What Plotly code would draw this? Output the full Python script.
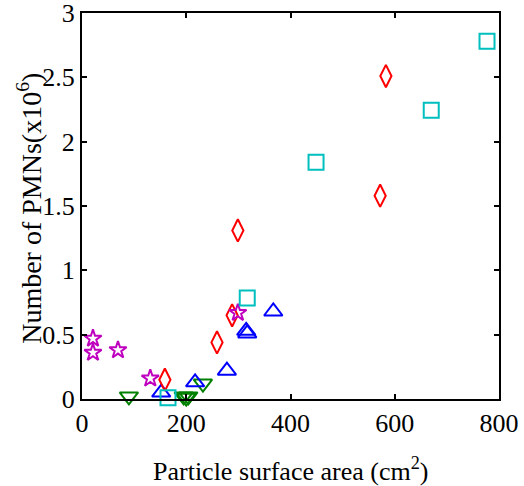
import plotly.graph_objects as go

# Data
sq_x = [165, 317, 449, 670, 777]
sq_y = [0.01, 0.785, 1.84, 2.245, 2.78]

dia_x = [159, 259, 288, 299, 572, 583]
dia_y = [0.15, 0.44, 0.65, 1.31, 1.58, 2.51]

tri_x = [152, 217, 278, 315, 317, 367]
tri_y = [0.05, 0.13, 0.22, 0.53, 0.51, 0.68]

dtri_x = [90, 195, 200, 204, 232]
dtri_y = [0.02, 0.02, 0.01, 0.02, 0.12]

star_x = [21, 21, 69, 131, 299]
star_y = [0.47, 0.36, 0.38, 0.16, 0.67]

x_ticks = [0, 200, 400, 600, 800]
y_ticks = [0, 0.5, 1, 1.5, 2, 2.5, 3]
y_tick_text = ["0", "0.5", "1", "1.5", "2", "2.5", "3"]

FONT = "Liberation Serif, Times New Roman, serif"

fig = go.Figure()

def add(x, y, symbol, color, size):
    fig.add_trace(go.Scatter(
        x=x, y=y, mode="markers", cliponaxis=False, showlegend=False,
        marker=dict(symbol=symbol, size=size, color=color,
                    line=dict(color=color, width=2)),
    ))

add(dtri_x, dtri_y, "triangle-down-open", "#008000", 16)
add(tri_x, tri_y, "triangle-up-open", "#0000FF", 16)
add(dia_x, dia_y, "diamond-tall-open", "#FF0000", 16)
add(star_x, star_y, "star-open", "#BF00BF", 13)
add(sq_x, sq_y, "square-open", "#00BFBF", 15)

axis_common = dict(
    showline=True, linecolor="black", linewidth=2, mirror="ticks",
    ticks="inside", ticklen=5, tickwidth=1.5, tickcolor="black",
    showgrid=False, zeroline=False, automargin=False,
    ticklabeloverflow="allow",
    tickfont=dict(family=FONT, size=26, color="black"),
)

fig.update_xaxes(range=[0, 800], tickvals=x_ticks, **axis_common)
fig.update_yaxes(range=[0, 3], tickvals=y_ticks, ticktext=y_tick_text,
                 **axis_common)

fig.add_annotation(
    text="Particle surface area (cm<sup>2</sup>)", xref="paper", yref="paper",
    x=0.5, y=-0.231, xanchor="center", yanchor="bottom",
    showarrow=False, font=dict(family=FONT, size=26, color="black"),
)

fig.add_annotation(
    text="Number of PMNs(x10<sup>6</sup>)", xref="paper", yref="paper",
    x=-0.125, y=0.495, xanchor="center", yanchor="middle", textangle=-90,
    showarrow=False, font=dict(family=FONT, size=28, color="black"),
)

fig.update_layout(
    width=524, height=486,
    margin=dict(l=82, r=25, t=13, b=87),
    plot_bgcolor="white", paper_bgcolor="white",
)

fig.write_html("out.html")
